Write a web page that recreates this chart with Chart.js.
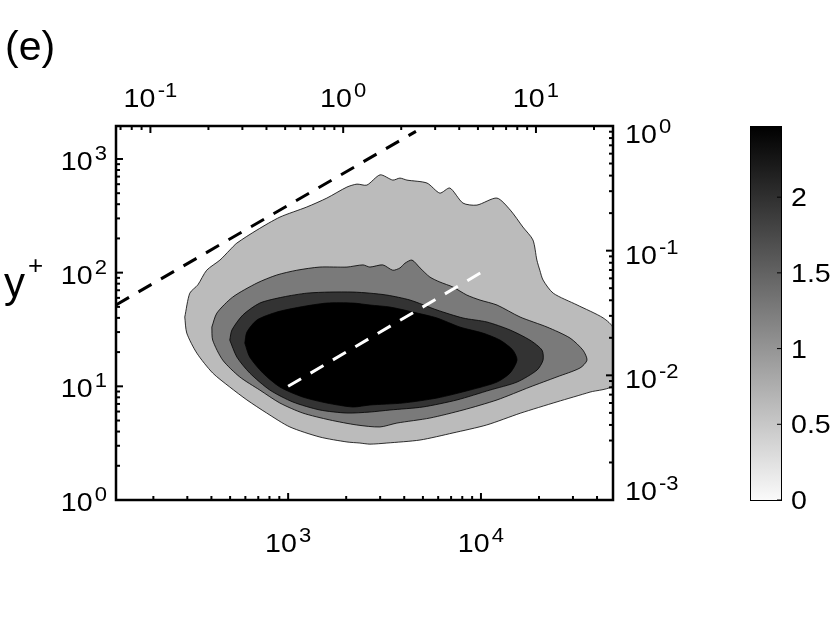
<!DOCTYPE html>
<html>
<head>
<meta charset="utf-8">
<script src="https://cdn.jsdelivr.net/npm/chart.js@4.4.1/dist/chart.umd.min.js"></script>
<style>
  html, body { margin: 0; padding: 0; background: #fff; }
  #wrap { position: relative; width: 830px; height: 623px; }
</style>
</head>
<body>
<div id="wrap"><canvas id="c" width="830" height="623"></canvas></div>
<script>
// axis limits (bottom x, left y, top x, right y, colour bar)
var X_RANGE = [128, 48400];
var Y_RANGE = [1, 1950];
var TOP_RANGE = [0.0663, 25.1];
var RIGHT_RANGE = [0.001, 1];
var CB_RANGE = [0, 2.47];

// labelled decades: value + exponent text
var X_MAJOR = [1e3, 1e4];
var X_LABELS = ['3', '4'];
var TOP_MAJOR = [0.1, 1, 10];
var TOP_LABELS = ['-1', '0', '1'];
var Y_MAJOR = [1, 10, 100, 1000];
var Y_LABELS = ['0', '1', '2', '3'];
var R_MAJOR = [0.001, 0.01, 0.1, 1];
var R_LABELS = ['-3', '-2', '-1', '0'];
var CB_TICKS = [0, 0.5, 1, 1.5, 2];
var CB_LABELS = ['0', '0.5', '1', '1.5', '2'];

// filled contour bands, traced round each closed boundary
var BAND1_X = [291, 309, 340, 378, 443, 498, 542, 689, 906, 1250, 1588, 2018, 2275, 2560, 3000, 3490, 3800, 4130, 5250, 6120, 6900, 8070, 9530, 12100, 14200, 16500, 18600, 19500, 20200, 21000, 23700, 31500, 43000, 48400, 48400, 36800, 24800, 16000, 10700, 7160, 4830, 3250, 2655, 2355, 2018, 1462, 1021, 774, 611, 498, 406, 336, 298, 291];
var BAND1_Y = [40.7, 66, 78, 105, 129, 158, 182, 237, 308, 378, 453, 566, 601, 589, 725, 652, 679, 652, 614, 501, 555, 409, 393, 453, 355, 252, 194, 129, 105, 86, 66, 52, 40, 32.5, 10.3, 8.9, 7.3, 5.8, 4.57, 3.89, 3.37, 3.17, 3.1, 3.17, 3.24, 3.58, 4.39, 5.82, 7.59, 9.86, 13.1, 19.6, 29.4, 40.7];

var BAND2_X = [402, 427, 516, 689, 873, 1109, 1462, 2018, 2443, 2655, 3097, 3491, 3802, 4034, 4389, 4831, 5433, 6124, 7160, 8450, 9886, 12110, 15960, 22030, 28970, 33810, 35480, 32660, 24770, 17950, 12110, 8072, 5433, 3664, 2992, 2270, 1645, 1191, 906, 713, 561, 458, 406, 402];
var BAND2_Y = [33.2, 44.1, 61, 81, 95.3, 105, 112, 112, 117, 112, 117, 105, 110, 121, 129, 110, 91.5, 82.7, 74.7, 63.5, 57.4, 51.9, 40.7, 33.2, 26.6, 20.8, 17, 14.5, 12.1, 9.86, 7.59, 6.19, 5.26, 4.75, 4.39, 4.57, 5.06, 5.82, 7.13, 9.27, 12.1, 17, 25.5, 33.2];

var BAND3_X = [498, 511, 582, 713, 938, 1250, 1645, 2168, 2655, 3251, 4285, 5918, 8072, 10740, 14160, 17950, 20740, 20990, 19540, 15380, 11140, 7510, 5000, 3373, 2655, 2018, 1462, 1058, 804, 632, 542, 498];
var BAND3_Y = [25.5, 31.3, 42.4, 54, 61, 66, 67.5, 67.5, 66, 63.5, 57.4, 46.9, 39.9, 36.8, 31.3, 25.5, 20.8, 17, 13.9, 10.9, 9.27, 7.59, 6.58, 6.19, 5.94, 5.82, 6.19, 7.28, 9.27, 13.1, 18.1, 25.5];

var BAND4_X = [596, 611, 689, 873, 1150, 1588, 2168, 2655, 3373, 4436, 5918, 7780, 10230, 12560, 14650, 15380, 14160, 12110, 8770, 5918, 3936, 2655, 2168, 1588, 1191, 906, 739, 632, 596];
var BAND4_Y = [24, 30, 38.3, 45, 49.8, 54, 54, 51.9, 49.8, 45, 39.9, 33.2, 29.4, 25.5, 20.8, 17, 13.1, 10.9, 9.27, 7.89, 7.13, 6.85, 6.58, 7.13, 8.05, 9.86, 13.1, 18.1, 24];

// dashed reference lines
var BLACK_X = [128, 4600];
var BLACK_Y = [52, 1750];
var WHITE_X = [1000, 10000];
var WHITE_Y = [10, 100];

var BAND_COLORS = ['#bbbbbb', '#7a7a7a', '#333333', '#000000'];
var FONT = '"Liberation Sans", Arial, Helvetica, sans-serif';
var SX = 1.1;   // the figure's lettering is a little wider than Arial
var CB_LEFT = 750, CB_WIDTH = 31;

function pts(xs, ys) {
    return xs.map(function (x, i) { return { x: x, y: ys[i] }; });
}

// 2..9 x 10^n that fall strictly inside (lo, hi)
function minors(lo, hi) {
    var out = [];
    for (var e = Math.floor(Math.log10(lo)); e <= Math.ceil(Math.log10(hi)); e++) {
        for (var m = 2; m <= 9; m++) {
            var v = m * Math.pow(10, e);
            if (v > lo && v < hi) out.push(v);
        }
    }
    return out;
}

function band(data, color, order) {
    return {
        data: data, order: order, fill: 'shape',
        backgroundColor: color, borderColor: '#000', borderWidth: 0.8,
        pointRadius: 0, tension: 0.25
    };
}

function dashed(data, color) {
    return {
        data: data, order: 0, fill: false,
        borderColor: color, borderWidth: 3, borderDash: [15, 11],
        borderCapStyle: 'butt', pointRadius: 0, tension: 0
    };
}

function ticks(ctx, scale, values, len, side, a) {
    values.forEach(function (v) {
        var p = scale.getPixelForValue(v);
        ctx.beginPath();
        if (side === 'bottom') { ctx.moveTo(p, a.bottom); ctx.lineTo(p, a.bottom - len); }
        if (side === 'top') { ctx.moveTo(p, a.top); ctx.lineTo(p, a.top + len); }
        if (side === 'left') { ctx.moveTo(a.left, p); ctx.lineTo(a.left + len, p); }
        if (side === 'right') { ctx.moveTo(a.right, p); ctx.lineTo(a.right - len, p); }
        ctx.stroke();
    });
}

// "10" with a raised exponent; y is the baseline of "10"
function pow10(ctx, exp, x, y, align) {
    ctx.font = '26px ' + FONT;
    var wb = ctx.measureText('10').width;
    ctx.font = '20px ' + FONT;
    var we = ctx.measureText(exp).width;
    var w = (wb + 2 + we) * SX;
    var x0 = align === 'center' ? x - w / 2 : (align === 'right' ? x - w : x);
    ctx.save();
    ctx.translate(x0, y);
    ctx.scale(SX, 1);
    ctx.textAlign = 'left';
    ctx.textBaseline = 'alphabetic';
    ctx.font = '26px ' + FONT;
    ctx.fillText('10', 0, 0);
    ctx.font = '20px ' + FONT;
    ctx.fillText(exp, wb + 2, -10);
    ctx.restore();
}

function wideText(ctx, txt, x, y) {
    ctx.save();
    ctx.translate(x, y);
    ctx.scale(SX, 1);
    ctx.fillText(txt, 0, 0);
    ctx.restore();
}

var decor = {
    id: 'decor',
    afterDatasetsDraw: function (chart) {
        var ctx = chart.ctx, a = chart.chartArea, s = chart.scales;
        ctx.save();
        ctx.strokeStyle = '#000';
        ctx.fillStyle = '#000';
        ctx.lineCap = 'butt';

        ctx.lineWidth = 2;
        ticks(ctx, s.x, X_MAJOR, 7, 'bottom', a);
        ticks(ctx, s.x, minors(X_RANGE[0], X_RANGE[1]), 4, 'bottom', a);
        ticks(ctx, s.xTop, TOP_MAJOR, 7, 'top', a);
        ticks(ctx, s.xTop, minors(TOP_RANGE[0], TOP_RANGE[1]), 4, 'top', a);
        ticks(ctx, s.y, Y_MAJOR.slice(1), 7, 'left', a);
        ticks(ctx, s.y, minors(Y_RANGE[0], Y_RANGE[1]), 4, 'left', a);
        ticks(ctx, s.yR, R_MAJOR.slice(1, 3), 7, 'right', a);
        ticks(ctx, s.yR, minors(RIGHT_RANGE[0], RIGHT_RANGE[1]), 4, 'right', a);

        ctx.lineWidth = 2.5;
        ctx.strokeRect(a.left, a.top, a.right - a.left, a.bottom - a.top);

        X_MAJOR.forEach(function (v, i) { pow10(ctx, X_LABELS[i], s.x.getPixelForValue(v), a.bottom + 52, 'center'); });
        TOP_MAJOR.forEach(function (v, i) { pow10(ctx, TOP_LABELS[i], s.xTop.getPixelForValue(v), a.top - 19, 'center'); });
        Y_MAJOR.forEach(function (v, i) { pow10(ctx, Y_LABELS[i], a.left - 9, s.y.getPixelForValue(v) + 11, 'right'); });
        R_MAJOR.forEach(function (v, i) {
            var yb = Math.min(Math.max(s.yR.getPixelForValue(v) + 13, a.top + 17), a.bottom);
            pow10(ctx, R_LABELS[i], a.right + 12, yb, 'left');
        });

        // y+ label and panel tag
        ctx.textAlign = 'left';
        ctx.textBaseline = 'alphabetic';
        ctx.font = '42px ' + FONT;
        ctx.fillText('y', 4, 297);
        ctx.font = '26px ' + FONT;
        ctx.fillText('+', 28, 274);
        ctx.font = '41px ' + FONT;
        ctx.fillText('(e)', 5, 60);

        // colour bar on its own linear scale
        var cb = s.cb;
        var top = cb.getPixelForValue(CB_RANGE[1]), bot = cb.getPixelForValue(CB_RANGE[0]);
        var g = ctx.createLinearGradient(0, top, 0, bot);
        g.addColorStop(0, '#000');
        g.addColorStop(1, '#fafafa');
        ctx.fillStyle = g;
        ctx.fillRect(CB_LEFT, top, CB_WIDTH, bot - top);
        ctx.lineWidth = 1;
        ctx.strokeRect(CB_LEFT + 0.5, top + 0.5, CB_WIDTH, bot - top);
        ctx.fillStyle = '#000';
        ctx.font = '26px ' + FONT;
        CB_TICKS.forEach(function (v, i) {
            var p = cb.getPixelForValue(v);
            ctx.beginPath();
            ctx.moveTo(CB_LEFT + CB_WIDTH, p);
            ctx.lineTo(CB_LEFT + CB_WIDTH - 4, p);
            ctx.stroke();
            wideText(ctx, CB_LABELS[i], CB_LEFT + CB_WIDTH + 10, p + 9);
        });
        ctx.restore();
    }
};

new Chart(document.getElementById('c').getContext('2d'), {
    type: 'line',
    data: {
        datasets: [
            dashed(pts(BLACK_X, BLACK_Y), '#000'),
            dashed(pts(WHITE_X, WHITE_Y), '#fff'),
            band(pts(BAND4_X, BAND4_Y), BAND_COLORS[3], 1),
            band(pts(BAND3_X, BAND3_Y), BAND_COLORS[2], 2),
            band(pts(BAND2_X, BAND2_Y), BAND_COLORS[1], 3),
            band(pts(BAND1_X, BAND1_Y), BAND_COLORS[0], 4)
        ]
    },
    options: {
        responsive: false,
        animation: false,
        events: [],
        layout: { padding: { left: 116, top: 126, right: 217, bottom: 123 } },
        plugins: { legend: { display: false }, tooltip: { enabled: false } },
        scales: {
            x: { type: 'logarithmic', position: 'bottom', display: false, min: X_RANGE[0], max: X_RANGE[1] },
            xTop: { type: 'logarithmic', position: 'top', display: false, min: TOP_RANGE[0], max: TOP_RANGE[1] },
            y: { type: 'logarithmic', position: 'left', display: false, min: Y_RANGE[0], max: Y_RANGE[1] },
            yR: { type: 'logarithmic', position: 'right', display: false, min: RIGHT_RANGE[0], max: RIGHT_RANGE[1] },
            cb: { type: 'linear', position: 'right', display: false, min: CB_RANGE[0], max: CB_RANGE[1] }
        }
    },
    plugins: [decor]
});
</script>
</body>
</html>
